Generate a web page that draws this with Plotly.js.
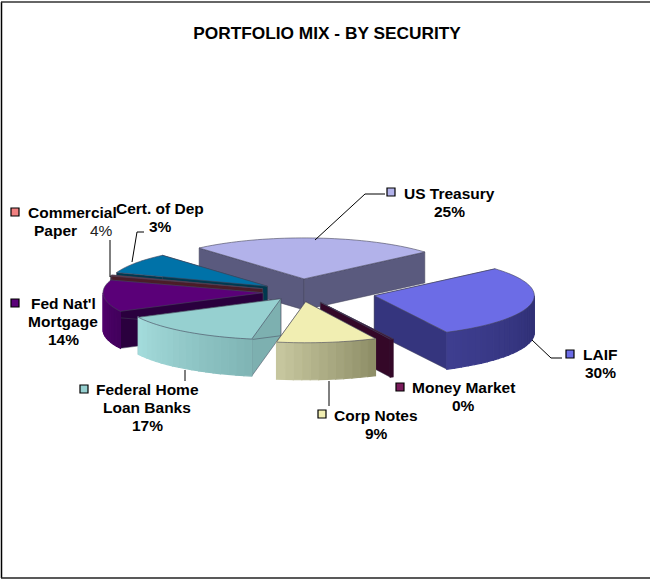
<!DOCTYPE html>
<html><head><meta charset="utf-8">
<script src="https://cdn.plot.ly/plotly-3.0.1.min.js"></script>
<style>html,body{margin:0;padding:0;background:#fff}#c{width:650px;height:581px}</style>
</head><body><div id="c"></div>
<script>
// Data
const categories = ["US Treasury","LAIF","Money Market","Corp Notes","Federal Home|Loan Banks","Fed Nat'l|Mortgage","Commercial|Paper","Cert. of Dep"];
const labelPercents = [25,30,0,9,17,14,4,3];
// wedge sizes as actually drawn (the 3-D view does not follow the printed percentages exactly)
const drawnShares = [25,28.9,0.3,10.1,14.6,12.5,0.4,8.2];
const explode = [0.32,0.47,0.28,0.24,0.205,0.235,0.25,0.25];

// Styling / layout
const topColors  = ["#B2B2EA","#6C6CE6","#3A0C34","#F1EEB2","#96D0D0","#5A0078","#7A3440","#0072A8"];
const cutColors  = ["#5A5A7E","#35357E","#340828","#A8A880","#7DB0B0","#2A003E","#4A1C28","#00394F"];
const sideStart  = ["#5A5A7E","#3E3E90","#340828","#C9C9A0","#A4DCDC","#52006E","#4A1C28","#005478"];
const sideEnd    = ["#5A5A7E","#2E2E72","#340828","#8C8C66","#7FB4B4","#42005C","#4A1C28","#005478"];
const depths     = [31,37,38,37,37,37,37,37];
const paintOrder = [0,7,6,5,1,2,4,3];
const center = {x:300.5,y:292}, rx = 160, ry = 41, startDeg = -41;
const labelPos = [[449,193],[600,354],[463,387],[376,415],[147,389],[63,303],[72,212],[160,208]];
const keyPos   = [[391,192],[570,354],[400,387],[322,414],[84,389],[15,303],[15,212]];
const paperLine = [55,230], paperPct = [101,230];
const lineStep = 18;
const leaders  = [
  {x:[315,365,385],y:[240,194,194]},
  {x:[532,551,562],y:[340,358,358]},
  {x:[329,329],y:[381,406]},
  {x:[185,185],y:[370,381]},
  {x:[110,110],y:[277,240]},
  {x:[132,137,144],y:[262,232,232]}
];
const keyColors = ["#B2B2EA","#6C6CE6","#7A1B5C","#F1EEB2","#96D0D0","#5A0078","#F08080"];

const rad = d => d*Math.PI/180;
const total = drawnShares.reduce((a,b)=>a+b,0);
let acc = startDeg;
const wedges = drawnShares.map((s,i)=>{
  const a0 = acc, a1 = acc + s/total*360; acc = a1;
  const mid = rad((a0+a1)/2);
  return {a0,a1,ax:center.x+explode[i]*rx*Math.sin(mid),ay:center.y-explode[i]*ry*Math.cos(mid)};
});
const rim = (w,a)=>[w.ax+rx*Math.sin(rad(a)),w.ay-ry*Math.cos(rad(a))];
const hex = c=>[1,3,5].map(k=>parseInt(c.substr(k,2),16));
const mix = (c1,c2,t)=>{const p=hex(c1),q=hex(c2);return 'rgb('+p.map((v,k)=>Math.round(v+(q[k]-v)*t)).join(',')+')';};
const traces = [];
const poly = (pts,fill,lineColor,lw)=>traces.push({type:'scatter',mode:'lines',x:pts.map(p=>p[0]),y:pts.map(p=>p[1]),
  fill:'toself',fillcolor:fill,line:{color:lineColor,width:lw,simplify:false},hoverinfo:'skip',showlegend:false});

paintOrder.forEach(i=>{
  const w = wedges[i], d = depths[i], apex=[w.ax,w.ay];
  [w.a0,w.a1].forEach(a=>{
    const r=rim(w,a);
    poly([apex,r,[r[0],r[1]+d],[apex[0],apex[1]+d],apex],cutColors[i],'#44445a',0.5);
  });
  const s0=Math.max(w.a0,90), s1=Math.min(w.a1,270);
  if(s1>s0){
    const n=Math.max(1,Math.round((s1-s0)/3));
    for(let k=0;k<n;k++){
      const b0=s0+(s1-s0)*k/n,b1=s0+(s1-s0)*(k+1)/n;
      const p=rim(w,b0),q=rim(w,b1);
      const col=mix(sideStart[i],sideEnd[i],1-(k+0.5)/n);
      poly([p,q,[q[0],q[1]+d],[p[0],p[1]+d],p],col,col,1.2);
    }
  }
  const pts=[apex];
  const m=Math.max(2,Math.round((w.a1-w.a0)/2));
  for(let k=0;k<=m;k++)pts.push(rim(w,w.a0+(w.a1-w.a0)*k/m));
  pts.push(apex);
  poly(pts,topColors[i],'#44445a',0.6);
});
leaders.forEach(l=>traces.push({type:'scatter',mode:'lines',x:l.x,y:l.y,line:{color:'#000',width:1},hoverinfo:'skip',showlegend:false}));
traces.push({type:'scatter',mode:'markers',x:keyPos.map(p=>p[0]),y:keyPos.map(p=>p[1]),
  marker:{symbol:'square',size:8,color:keyColors,line:{color:'#000',width:1.2}},hoverinfo:'skip',showlegend:false});

const font={family:'"Liberation Sans",Arial,sans-serif',size:15.5,color:'#000'};
const note=(x,y,text,f)=>({x,y,xref:'x',yref:'y',text,showarrow:false,font:f||font,align:'center',xanchor:'center',yanchor:'middle'});
const annotations=[];
categories.forEach((c,i)=>{
  const lines=c.split('|');
  if(i===6){
    annotations.push(note(labelPos[i][0],labelPos[i][1],'<b>'+lines[0]+'</b>'));
    annotations.push(note(paperLine[0],paperLine[1],'<b>'+lines[1]+'</b>'));
    annotations.push(note(paperPct[0],paperPct[1],labelPercents[i]+'%',Object.assign({},font,{color:'#222'})));
  } else {
    lines.concat([labelPercents[i]+'%']).forEach((t,k)=>annotations.push(note(labelPos[i][0],labelPos[i][1]+k*lineStep,'<b>'+t+'</b>')));
  }
});

const layout={
  width:650,height:581,margin:{l:0,r:0,t:0,b:0},paper_bgcolor:'#fff',plot_bgcolor:'#fff',showlegend:false,
  title:{text:'<b>PORTFOLIO MIX - BY SECURITY</b>',font:{family:font.family,size:17.3,color:'#000'},x:327/650,xanchor:'center',xref:'paper',y:1-33/581,yref:'container',yanchor:'middle'},
  xaxis:{range:[0,650],visible:false,fixedrange:true},
  yaxis:{range:[581,0],visible:false,fixedrange:true},
  annotations,
  shapes:[
    {type:'line',xref:'x',yref:'y',x0:1.5,y0:2,x1:1.5,y1:578,line:{color:'#000',width:1.5}},
    {type:'line',xref:'x',yref:'y',x0:1,y0:2,x1:650,y1:2,line:{color:'#333',width:1.5}},
    {type:'line',xref:'x',yref:'y',x0:1,y0:578,x1:650,y1:578,line:{color:'#222',width:1.5}}
  ]
};
Plotly.newPlot('c',traces,layout,{displayModeBar:false,staticPlot:true});
</script>
</body></html>
